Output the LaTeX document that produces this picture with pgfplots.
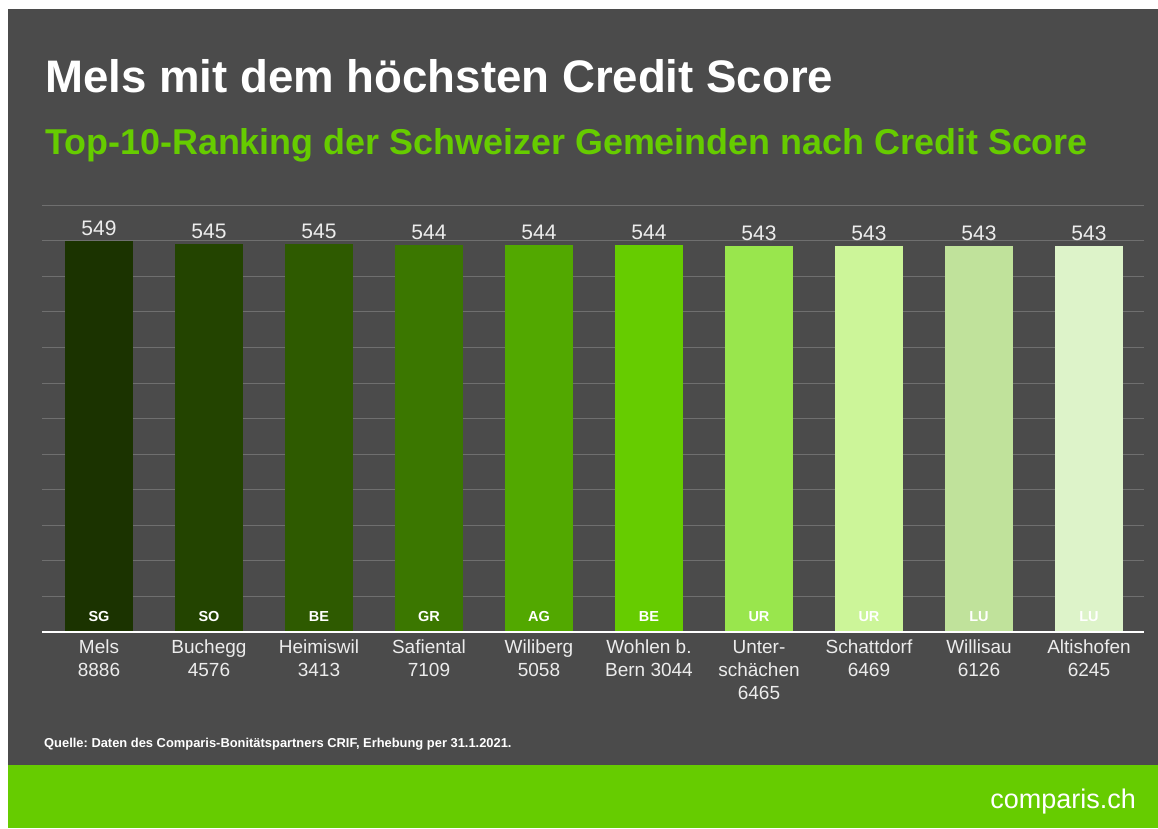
\documentclass[border=0pt]{standalone}
\usepackage{pgfplots}
\pgfplotsset{compat=1.18}
\usepackage{fontspec}
\setmainfont{Liberation Sans}
\frenchspacing
\definecolor{bg}{HTML}{4B4B4B}
\definecolor{cgreen}{HTML}{66CC00}
\definecolor{gridc}{HTML}{6F6F6F}
\definecolor{txt}{HTML}{ECECEC}
\definecolor{b1}{HTML}{1B3300}
\definecolor{b2}{HTML}{234400}
\definecolor{b3}{HTML}{2E5A00}
\definecolor{b4}{HTML}{3B7700}
\definecolor{b5}{HTML}{52A800}
\definecolor{b6}{HTML}{66CC00}
\definecolor{b7}{HTML}{99E64D}
\definecolor{b8}{HTML}{CCF599}
\definecolor{b9}{HTML}{C0E29B}
\definecolor{b10}{HTML}{DDF3C9}
\tikzset{canton/.style={anchor=base, inner sep=0, text=white, font=\fontsize{14.5}{16}\selectfont\bfseries, yshift=11pt}}
\begin{document}
\begin{tikzpicture}[x=1pt,y=1pt]
\fill[white] (0,0) rectangle (1158,828);
\fill[bg] (8,63) rectangle (1158,819);
\fill[cgreen] (8,0) rectangle (1158,63);
\node[anchor=base west, inner sep=0, text=white, font=\fontsize{45.6}{54}\selectfont\bfseries] at (45,735) {Mels mit dem höchsten Credit Score};
\node[anchor=base west, inner sep=0, text=cgreen, font=\fontsize{35.9}{44}\selectfont\bfseries] at (45,673) {Top-10-Ranking der Schweizer Gemeinden nach Credit Score};
\node[anchor=base west, inner sep=0, text=white, font=\fontsize{12.9}{15}\selectfont\bfseries] at (44,81) {Quelle: Daten des Comparis-Bonitätspartners CRIF, Erhebung per 31.1.2021.};
\node[anchor=base east, inner sep=0, text=white, font=\fontsize{27}{32}\selectfont] at (1136,20) {comparis.ch};
\begin{axis}[
  at={(42pt,196pt)}, anchor=south west,
  width=1102pt, height=427pt, scale only axis,
  ybar, bar width=0.618, bar shift=0pt,
  xmin=-0.518, xmax=9.5, ymin=0, ymax=600,
  ytick={0,50,...,600}, yticklabels={},
  ymajorgrids, grid style={gridc, line width=0.8pt},
  major tick length=0pt,
  axis line style={draw=none},
  xtick={0,...,9},
  xticklabels={{Mels\\8886},{Buchegg\\4576},{Heimiswil\\3413},{Safiental\\7109},{Wiliberg\\5058},{Wohlen b.\\Bern 3044},{Unter-\\schächen\\6465},{Schattdorf\\6469},{Willisau\\6126},{Altishofen\\6245}},
  xticklabel style={align=center, text=txt, font=\fontsize{19}{23}\selectfont, inner sep=0pt, yshift=-8pt},
  /pgf/number format/assume math mode=true,
  nodes near coords,
  every node near coord/.append style={text=txt, font=\fontsize{21}{24}\selectfont, anchor=south, inner sep=0pt, yshift=5pt},
  clip=false,
]
\addplot[fill=b1, draw=none] coordinates {(0,549)};
\addplot[fill=b2, draw=none] coordinates {(1,545)};
\addplot[fill=b3, draw=none] coordinates {(2,545)};
\addplot[fill=b4, draw=none] coordinates {(3,544)};
\addplot[fill=b5, draw=none] coordinates {(4,544)};
\addplot[fill=b6, draw=none] coordinates {(5,544)};
\addplot[fill=b7, draw=none] coordinates {(6,543)};
\addplot[fill=b8, draw=none] coordinates {(7,543)};
\addplot[fill=b9, draw=none] coordinates {(8,543)};
\addplot[fill=b10, draw=none] coordinates {(9,543)};
\draw[white, line width=2pt] (axis cs:-0.518,0) -- (axis cs:9.5,0);
\node[canton] at (axis cs:0,0) {SG};
\node[canton] at (axis cs:1,0) {SO};
\node[canton] at (axis cs:2,0) {BE};
\node[canton] at (axis cs:3,0) {GR};
\node[canton] at (axis cs:4,0) {AG};
\node[canton] at (axis cs:5,0) {BE};
\node[canton] at (axis cs:6,0) {UR};
\node[canton] at (axis cs:7,0) {UR};
\node[canton] at (axis cs:8,0) {LU};
\node[canton] at (axis cs:9,0) {LU};
\end{axis}
\end{tikzpicture}
\end{document}
